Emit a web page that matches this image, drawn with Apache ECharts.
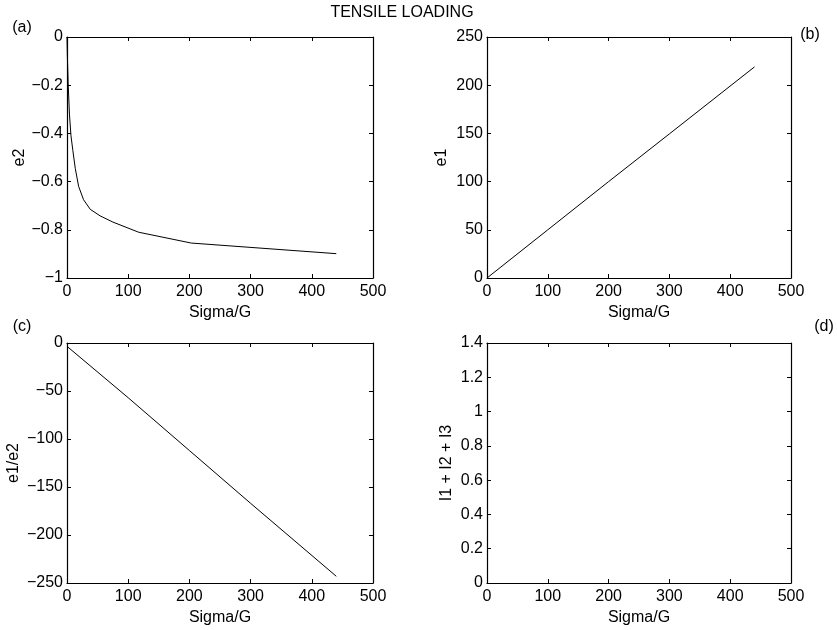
<!DOCTYPE html>
<html>
<head>
<meta charset="utf-8">
<script src="https://cdn.jsdelivr.net/npm/echarts@6/dist/echarts.min.js"></script>
<style>html,body{margin:0;padding:0;background:#fff;}#c{width:837px;height:630px;}</style>
</head>
<body>
<div id="c"></div>
<script>
// ---- data ----
const xTicks = [0, 100, 200, 300, 400, 500];
// (a) e2 vs Sigma/G
const sigmaA = [0, 0.6, 2, 4, 6.5, 9.5, 13.5, 19, 27, 38, 54, 75, 117, 203, 440];
const e2 = [0, -0.08, -0.2, -0.32, -0.41, -0.47, -0.545, -0.62, -0.675, -0.715, -0.742, -0.768, -0.81, -0.855, -0.899];
// (b) e1 vs Sigma/G
const sigmaB = [0, 100, 200, 300, 440];
const e1 = [0, 50, 100, 149.5, 219];
// (c) e1/e2 vs Sigma/G
const sigmaC = [1, 100, 200, 300, 440];
const e1e2 = [-4, -57, -112, -167, -243];
// (d) I1 + I2 + I3 vs Sigma/G : empty axes
const sigmaD = [];
const iSum = [];

const titleText = 'TENSILE LOADING';
const panelLabels = ['(a)', '(b)', '(c)', '(d)'];
const yNames = ['e2', 'e1', 'e1/e2', 'I1 + I2 + I3'];
const xName = 'Sigma/G';

// ---- layout ----
const FONT = '"Liberation Sans", Arial, Helvetica, sans-serif';
const grids = [
  {left: 67, top: 37, width: 306, height: 241},
  {left: 487, top: 37, width: 304, height: 241},
  {left: 67, top: 343, width: 306, height: 240},
  {left: 487, top: 343, width: 304, height: 240}
];
const yRanges = [
  {min: -1, max: 0, interval: 0.2, gap: 38},
  {min: 0, max: 250, interval: 50, gap: 37},
  {min: -250, max: 0, interval: 50, gap: 45},
  {min: 0, max: 1.4, interval: 0.2, gap: 32}
];
const fmt = v => {
  const n = Number(Number(v).toFixed(6));
  return String(n).replace('-', '\u2212');
};
const lineCol = '#000';
const xAxes = [], yAxes = [];
grids.forEach((g, i) => {
  const common = {
    gridIndex: i, type: 'value', min: 0, max: 500, interval: 100,
    axisLine: {show: true, onZero: false, lineStyle: {color: lineCol, width: 1.2}},
    axisTick: {show: true, inside: true, length: 4, lineStyle: {color: lineCol}},
    splitLine: {show: false}
  };
  xAxes.push(Object.assign({}, common, {
    position: 'bottom',
    axisLabel: {show: true, margin: 6, color: '#000', fontSize: 16, fontFamily: FONT, formatter: fmt},
    name: xName, nameLocation: 'middle', nameGap: 27,
    nameTextStyle: {color: '#000', fontSize: 16, fontFamily: FONT}
  }));
  xAxes.push(Object.assign({}, common, {position: 'top', axisLabel: {show: false}}));
  const r = yRanges[i];
  const ycommon = {
    gridIndex: i, type: 'value', min: r.min, max: r.max, interval: r.interval,
    axisLine: {show: true, onZero: false, lineStyle: {color: lineCol, width: 1.2}},
    axisTick: {show: true, inside: true, length: 4, lineStyle: {color: lineCol}},
    splitLine: {show: false}
  };
  yAxes.push(Object.assign({}, ycommon, {
    position: 'left',
    axisLabel: {show: true, margin: 4, color: '#000', fontSize: 16, fontFamily: FONT, formatter: fmt},
    name: yNames[i], nameLocation: 'middle', nameGap: r.gap, nameRotate: 90,
    nameTextStyle: {color: '#000', fontSize: 16, fontFamily: FONT}
  }));
  yAxes.push(Object.assign({}, ycommon, {position: 'right', axisLabel: {show: false}}));
});

const pairs = (xs, ys) => xs.map((v, i) => [v, ys[i]]);
const mk = (i, xs, ys) => ({
  type: 'line', xAxisIndex: 2 * i, yAxisIndex: 2 * i, data: pairs(xs, ys),
  showSymbol: false, symbol: 'none', smooth: false,
  lineStyle: {color: '#000', width: 1}, silent: true
});

const labelPos = [[22, 28], [810, 35], [22, 327], [824, 327]];
const graphics = [{
  type: 'text', x: 402, y: 13,
  style: {text: titleText, fill: '#000', font: '16px ' + FONT, textAlign: 'center', textVerticalAlign: 'middle'}
}];
panelLabels.forEach((t, i) => graphics.push({
  type: 'text', x: labelPos[i][0], y: labelPos[i][1],
  style: {text: t, fill: '#000', font: '16px ' + FONT, textAlign: 'center', textVerticalAlign: 'middle'}
}));

const chart = echarts.init(document.getElementById('c'), null, {renderer: 'canvas'});
chart.setOption({
  animation: false,
  backgroundColor: '#fff',
  grid: grids.map(g => Object.assign({show: false, containLabel: false}, g)),
  xAxis: xAxes,
  yAxis: yAxes,
  series: [mk(0, sigmaA, e2), mk(1, sigmaB, e1), mk(2, sigmaC, e1e2), mk(3, sigmaD, iSum)],
  graphic: graphics
});
</script>
</body>
</html>
